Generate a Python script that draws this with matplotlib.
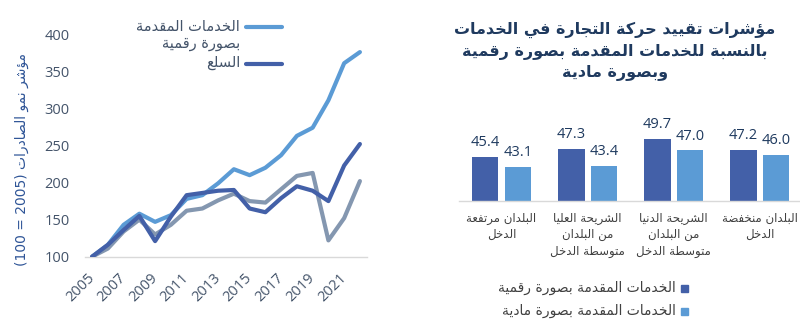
import re
import matplotlib
matplotlib.use("Agg")
import matplotlib.pyplot as plt
from matplotlib.lines import Line2D
from matplotlib.patches import Rectangle

# ---------------- data ----------------
years = list(range(2005, 2023))
digital_services = [100, 116, 143, 158, 147, 156, 178, 183, 199, 218, 210, 220, 237, 263, 274, 311, 361, 376]
goods = [100, 116, 136, 155, 121, 154, 183, 186, 189, 190, 165, 160, 179, 195, 189, 175, 223, 252]
physical_services = [100, 111, 134, 150, 130, 143, 162, 165, 176, 185, 175, 173, 191, 209, 213, 122, 152, 202]
year_ticks = list(range(2005, 2022, 2))
y_ticks = [100, 150, 200, 250, 300, 350, 400]

line_label_digital = "الخدمات المقدمة\nبصورة رقمية"
line_label_goods = "السلع"
y_label = "مؤشر نمو الصادرات (2005 = 100)"

bar_title = "مؤشرات تقييد حركة التجارة في الخدمات\nبالنسبة للخدمات المقدمة بصورة رقمية\nوبصورة مادية"
bar_categories = ["البلدان مرتفعة\nالدخل",
                  "الشريحة العليا\nمن البلدان\nمتوسطة الدخل",
                  "الشريحة الدنيا\nمن البلدان\nمتوسطة الدخل",
                  "البلدان منخفضة\nالدخل"]
bar_digital = [45.4, 47.3, 49.7, 47.2]
bar_physical = [43.1, 43.4, 47.0, 46.0]
bar_label_digital = "الخدمات المقدمة بصورة رقمية"
bar_label_physical = "الخدمات المقدمة بصورة مادية"

# ---------------- Arabic shaping (presentation forms) + simple bidi ----------------
_TABLE = {0x0621: (0xFE80, 1), 0x0622: (0xFE81, 2), 0x0623: (0xFE83, 2), 0x0624: (0xFE85, 2),
          0x0625: (0xFE87, 2), 0x0626: (0xFE89, 4), 0x0627: (0xFE8D, 2), 0x0628: (0xFE8F, 4),
          0x0629: (0xFE93, 2), 0x062A: (0xFE95, 4), 0x062B: (0xFE99, 4), 0x062C: (0xFE9D, 4),
          0x062D: (0xFEA1, 4), 0x062E: (0xFEA5, 4), 0x062F: (0xFEA9, 2), 0x0630: (0xFEAB, 2),
          0x0631: (0xFEAD, 2), 0x0632: (0xFEAF, 2), 0x0633: (0xFEB1, 4), 0x0634: (0xFEB5, 4),
          0x0635: (0xFEB9, 4), 0x0636: (0xFEBD, 4), 0x0637: (0xFEC1, 4), 0x0638: (0xFEC5, 4),
          0x0639: (0xFEC9, 4), 0x063A: (0xFECD, 4), 0x0641: (0xFED1, 4), 0x0642: (0xFED5, 4),
          0x0643: (0xFED9, 4), 0x0644: (0xFEDD, 4), 0x0645: (0xFEE1, 4), 0x0646: (0xFEE5, 4),
          0x0647: (0xFEE9, 4), 0x0648: (0xFEED, 2), 0x0649: (0xFEEF, 2), 0x064A: (0xFEF1, 4)}
_LAMALEF = {'\u0622': (0xFEF5, 0xFEF6), '\u0623': (0xFEF7, 0xFEF8),
            '\u0625': (0xFEF9, 0xFEFA), '\u0627': (0xFEFB, 0xFEFC)}
_MIRROR = {'(': ')', ')': '(', '[': ']', ']': '['}


def _dual(c):
    return c is not None and ord(c) in _TABLE and _TABLE[ord(c)][1] == 4


def _joinable(c):
    return c is not None and ord(c) in _TABLE and _TABLE[ord(c)][1] >= 2


def _shape(s):
    out = []
    i, n = 0, len(s)
    while i < n:
        c = s[i]
        o = ord(c)
        if o not in _TABLE:
            out.append(c)
            i += 1
            continue
        prev = s[i - 1] if i > 0 else None
        jp = _dual(prev) and _joinable(c)
        if o == 0x0644 and i + 1 < n and s[i + 1] in _LAMALEF:
            iso, fin = _LAMALEF[s[i + 1]]
            out.append(chr(fin if jp else iso))
            i += 2
            continue
        nxt = s[i + 1] if i + 1 < n else None
        jn = _dual(c) and _joinable(nxt)
        base, cnt = _TABLE[o]
        if cnt == 1:
            form = 0
        elif jp and jn:
            form = 3
        elif jp:
            form = 1
        elif jn:
            form = 2
        else:
            form = 0
        out.append(chr(base + form))
        i += 1
    return ''.join(out)


def ar(text):
    lines = []
    for line in text.split('\n'):
        shaped = _shape(line)
        tokens = re.findall(r'[0-9]+(?:[.,][0-9]+)*|[^0-9]+', shaped)
        vis = []
        for t in reversed(tokens):
            if t[0].isdigit():
                vis.append(t)
            else:
                vis.append(''.join(_MIRROR.get(ch, ch) for ch in reversed(t)))
        lines.append(''.join(vis))
    return '\n'.join(lines)


# ---------------- style ----------------
plt.rcParams['font.family'] = ['Open Sans', 'DejaVu Sans']
C_LIGHT = '#5B9BD5'
C_DARK = '#4360A8'
C_GRAY = '#8497B0'
C_TICK = '#44546A'
C_TEXT = '#404040'
C_TITLE = '#1F3A5F'
C_AXIS = '#D9D9D9'
AR = ['DejaVu Sans']

W, H = 800, 328
fig = plt.figure(figsize=(W / 100, H / 100), dpi=100)


def fx(px):
    return px / W


def fy(py):
    return 1 - py / H


# ---------------- line chart ----------------
ax1 = fig.add_axes([fx(85), fy(256.7), fx(367) - fx(85), fy(34.3) - fy(256.7)])
ax1.plot(years, digital_services, color=C_LIGHT, lw=3.0, solid_capstyle='round', zorder=3)
ax1.plot(years, physical_services, color=C_GRAY, lw=3.0, solid_capstyle='round', zorder=4)
ax1.plot(years, goods, color=C_DARK, lw=3.0, solid_capstyle='round', zorder=5)
ax1.set_xlim(2004.55, 2022.45)
ax1.set_ylim(100, 400)
ax1.set_yticks(y_ticks)
ax1.set_yticklabels([str(v) for v in y_ticks], fontsize=10.5, color=C_TICK)
ax1.set_xticks(year_ticks)
ax1.set_xticklabels([str(y) for y in year_ticks], fontsize=10.5, color=C_TICK,
                    rotation=45, ha='right', va='center', rotation_mode='anchor')
ax1.tick_params(axis='both', length=0)
ax1.tick_params(axis='x', pad=14)
ax1.tick_params(axis='y', pad=11)
for sp in ['top', 'right', 'left']:
    ax1.spines[sp].set_visible(False)
ax1.spines['bottom'].set_color(C_AXIS)
ax1.spines['bottom'].set_linewidth(1.0)
ax1.set_zorder(2)
ax1.patch.set_visible(False)

fig.text(fx(22), fy(159), ar(y_label), rotation=90, ha='center', va='center',
         fontsize=10, color='#2F5597', family=AR)

# legend of line chart (RTL: line on the right)
fig.add_artist(Line2D([fx(246), fx(282)], [fy(26.5), fy(26.5)], color=C_LIGHT, lw=3.0,
                      solid_capstyle='round'))
fig.add_artist(Line2D([fx(246), fx(282)], [fy(64), fy(64)], color=C_DARK, lw=3.0,
                      solid_capstyle='round'))
fig.text(fx(240), fy(35), ar(line_label_digital), ha='right', va='center', fontsize=10.5,
         color=C_TICK, family=AR, multialignment='right', linespacing=1.1)
fig.text(fx(240), fy(63), ar(line_label_goods), ha='right', va='center', fontsize=10.5,
         color=C_TICK, family=AR)

# ---------------- bar chart ----------------
ymin_b = 35.15
px_per_unit = 4.24
ax2 = fig.add_axes([fx(459), fy(200.7), fx(800) - fx(459), fy(100) - fy(200.7)])
pos = list(range(len(bar_categories)))
bw = 0.31
off = 0.19
b1 = ax2.bar([p - off for p in pos], bar_digital, width=bw, color=C_DARK, bottom=0)
b2 = ax2.bar([p + off for p in pos], bar_physical, width=bw, color=C_LIGHT, bottom=0)
ax2.set_ylim(ymin_b, ymin_b + 100.7 / px_per_unit)
ax2.set_xlim(-0.494, 3.47)
for bars, vals in ((b1, bar_digital), (b2, bar_physical)):
    for rect, v in zip(bars, vals):
        ax2.annotate(f"{v:.1f}", (rect.get_x() + rect.get_width() / 2, v),
                     xytext=(0, 5), textcoords='offset points', ha='center', va='bottom',
                     fontsize=10.5, color=C_TITLE, annotation_clip=False)
ax2.set_xticks(pos)
ax2.set_xticklabels([ar(c) for c in bar_categories], fontsize=8.5, color=C_TEXT,
                    family=AR, linespacing=1.35)
ax2.tick_params(axis='x', length=0, pad=8)
ax2.set_yticks([])
for sp in ['top', 'right', 'left']:
    ax2.spines[sp].set_visible(False)
ax2.spines['bottom'].set_color(C_AXIS)
ax2.spines['bottom'].set_linewidth(1.0)
ax2.patch.set_visible(False)

fig.text(fx(615), fy(22), ar(bar_title), ha='center', va='top', fontsize=11.5,
         fontweight='bold', color=C_TITLE, family=AR, linespacing=1.45)

# legend of bar chart (squares on the right)
for py, col, lab in ((288, C_DARK, bar_label_digital), (311, C_LIGHT, bar_label_physical)):
    fig.add_artist(Rectangle((fx(680.5), fy(py + 3.5)), fx(7), 7 / H, color=col,
                             transform=fig.transFigure))
    fig.text(fx(676), fy(py), ar(lab), ha='right', va='center', fontsize=10,
             color=C_TEXT, family=AR)

fig.savefig('out.png', dpi=100)
